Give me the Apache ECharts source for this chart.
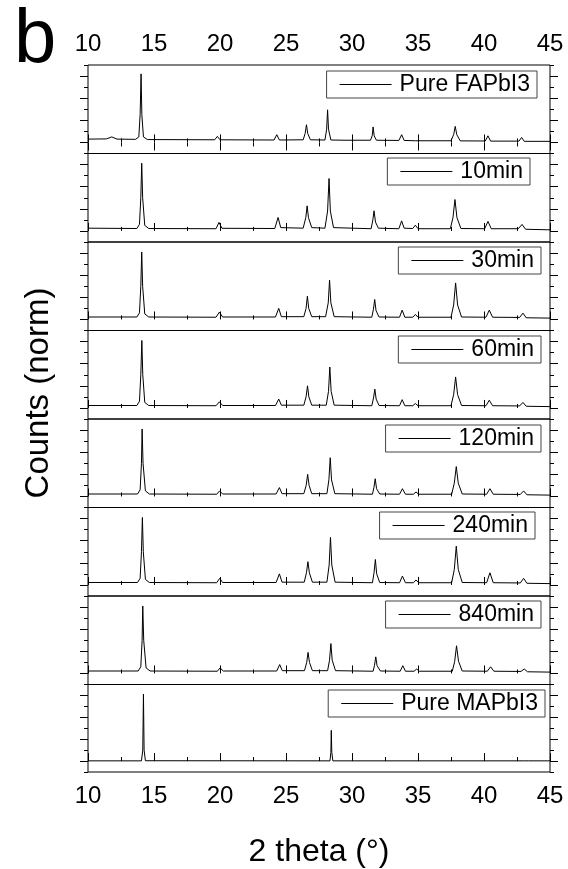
<!DOCTYPE html>
<html>
<head>
<meta charset="utf-8">
<script src="https://cdn.jsdelivr.net/npm/echarts@6/dist/echarts.min.js"></script>
<style>
html,body{margin:0;padding:0;background:#fff;}
#chart{width:568px;height:869px;}
</style>
</head>
<body>
<div id="chart"></div>
<script>
// sample names, one per panel (top to bottom)
var names = ['Pure FAPbI3', '10min', '30min', '60min', '120min', '240min', '840min', 'Pure MAPbI3'];

// [2theta, counts(norm)]
var fapbi3 = [
	[10,0.3],[11.4,0.32],[11.8,0.5],[12.2,0.3],[13.6,0.28],[13.85,0.5],[13.95,2.5],[14.02,6.2],[14.08,2.5],[14.2,0.5],[14.5,0.26],
	[19.6,0.24],[19.8,0.55],[20.0,0.24],[24.1,0.22],[24.3,0.7],[24.5,0.22],[26.3,0.24],[26.45,0.8],[26.55,1.6],[26.65,0.8],[26.85,0.24],
	[27.95,0.22],[28.08,1.2],[28.15,2.95],[28.22,1.2],[28.4,0.22],[29.4,0.2],[29.55,0.38],[29.7,0.2],[31.4,0.2],[31.53,0.6],[31.6,1.4],[31.68,0.6],[31.85,0.2],
	[33.55,0.18],[33.76,0.7],[33.95,0.18],[34.55,0.16],[34.68,0.3],[34.8,0.15],[37.5,0.15],[37.7,0.7],[37.82,1.45],[37.94,0.7],[38.2,0.14],
	[40.1,0.13],[40.3,0.6],[40.5,0.12],[42.65,0.12],[42.85,0.45],[43.05,0.1],[45,0.1]
];
var min10 = [
	[10,0.25],[13.7,0.22],[13.9,0.6],[14.0,3],[14.07,6.12],[14.14,3],[14.3,0.5],[14.6,0.22],
	[19.7,0.2],[19.92,0.77],[20.15,0.24],[24.15,0.22],[24.4,1.22],[24.6,0.3],[26.3,0.25],[26.5,1.2],[26.6,2.27],[26.7,1.2],[26.95,0.3],
	[27.95,0.25],[28.15,1.8],[28.26,4.74],[28.36,1.8],[28.6,0.3],[31.45,0.2],[31.58,1.0],[31.67,1.82],[31.78,0.8],[32.0,0.25],
	[33.55,0.2],[33.76,0.91],[33.95,0.25],[34.6,0.22],[34.8,0.52],[35.0,0.2],[37.45,0.2],[37.65,1.2],[37.8,2.84],[37.95,1.2],[38.25,0.22],
	[40.05,0.2],[40.3,0.86],[40.55,0.2],[42.6,0.2],[42.88,0.59],[43.15,0.15],[45,0.1]
];
var min30 = [
	[10,0.22],[13.7,0.22],[13.9,0.6],[14.0,3],[14.07,6.1],[14.14,3],[14.3,0.5],[14.6,0.22],
	[19.7,0.2],[19.95,0.66],[20.2,0.22],[24.2,0.22],[24.45,1.0],[24.65,0.25],[26.35,0.25],[26.52,1.0],[26.62,2.1],[26.72,1.0],[26.95,0.25],
	[28.0,0.25],[28.2,1.5],[28.3,3.55],[28.4,1.5],[28.65,0.25],[31.5,0.2],[31.62,0.9],[31.72,1.8],[31.82,0.8],[32.05,0.22],
	[33.6,0.2],[33.8,0.84],[34.0,0.2],[34.6,0.2],[34.8,0.45],[35.0,0.2],[37.5,0.2],[37.7,1.3],[37.85,3.3],[38.0,1.3],[38.3,0.22],
	[40.15,0.2],[40.4,0.84],[40.65,0.2],[42.7,0.18],[42.95,0.57],[43.2,0.15],[45,0.12]
];
var min60 = [
	[10,0.22],[13.7,0.22],[13.9,0.6],[14.0,3],[14.08,6.1],[14.15,3],[14.3,0.5],[14.6,0.22],
	[19.7,0.2],[19.95,0.55],[20.2,0.22],[24.2,0.22],[24.45,0.8],[24.65,0.25],[26.35,0.25],[26.52,1.0],[26.63,2.0],[26.73,1.0],[26.95,0.25],
	[28.05,0.25],[28.22,1.5],[28.32,3.7],[28.42,1.5],[28.65,0.25],[31.5,0.2],[31.63,0.9],[31.73,1.7],[31.83,0.8],[32.05,0.22],
	[33.6,0.2],[33.8,0.75],[34.0,0.2],[34.6,0.2],[34.8,0.4],[35.0,0.2],[37.5,0.2],[37.7,1.2],[37.85,2.8],[38.0,1.2],[38.3,0.22],
	[40.15,0.2],[40.4,0.7],[40.65,0.2],[42.7,0.18],[42.95,0.5],[43.2,0.15],[45,0.12]
];
var min120 = [
	[10,0.22],[13.75,0.22],[13.95,0.6],[14.05,3],[14.1,6.1],[14.17,3],[14.35,0.5],[14.65,0.22],
	[19.75,0.2],[19.97,0.5],[20.2,0.22],[24.25,0.22],[24.5,0.8],[24.7,0.25],[26.35,0.25],[26.53,1.0],[26.64,2.0],[26.75,1.0],[26.95,0.25],
	[28.1,0.25],[28.25,1.5],[28.35,3.5],[28.45,1.5],[28.7,0.25],[31.55,0.2],[31.66,0.8],[31.76,1.6],[31.86,0.7],[32.1,0.22],
	[33.6,0.2],[33.82,0.7],[34.05,0.2],[34.65,0.2],[34.85,0.4],[35.05,0.2],[37.55,0.2],[37.75,1.2],[37.9,2.7],[38.05,1.2],[38.35,0.22],
	[40.2,0.2],[40.45,0.7],[40.7,0.2],[42.75,0.18],[43.0,0.5],[43.25,0.15],[45,0.12]
];
var min240 = [
	[10,0.22],[13.75,0.22],[13.95,0.6],[14.05,3],[14.12,6.1],[14.19,3],[14.35,0.5],[14.65,0.22],
	[19.75,0.2],[19.98,0.6],[20.2,0.22],[24.25,0.22],[24.5,1.0],[24.7,0.25],[26.38,0.25],[26.55,1.1],[26.66,2.1],[26.77,1.1],[27.0,0.25],
	[28.1,0.25],[28.27,1.8],[28.37,4.3],[28.47,1.8],[28.72,0.25],[31.55,0.2],[31.67,1.1],[31.77,2.3],[31.87,1.0],[32.1,0.22],
	[33.6,0.2],[33.82,0.8],[34.05,0.2],[34.65,0.2],[34.85,0.45],[35.05,0.2],[37.55,0.2],[37.75,1.4],[37.9,3.5],[38.05,1.4],[38.35,0.22],
	[40.2,0.2],[40.45,1.1],[40.7,0.2],[42.75,0.18],[43.0,0.6],[43.25,0.15],[45,0.12]
];
var min840 = [
	[10,0.22],[13.8,0.22],[14.0,0.6],[14.1,3],[14.15,6.1],[14.22,3],[14.4,0.5],[14.7,0.22],
	[19.8,0.2],[20.0,0.5],[20.25,0.22],[24.3,0.22],[24.52,0.8],[24.72,0.25],[26.4,0.25],[26.57,1.0],[26.67,1.9],[26.78,1.0],[27.0,0.25],
	[28.15,0.25],[28.3,1.2],[28.4,2.7],[28.5,1.2],[28.75,0.25],[31.6,0.2],[31.7,0.7],[31.8,1.5],[31.9,0.7],[32.15,0.22],
	[33.65,0.2],[33.85,0.7],[34.05,0.2],[34.7,0.2],[34.9,0.4],[35.1,0.2],[37.6,0.2],[37.78,1.1],[37.92,2.5],[38.07,1.1],[38.35,0.22],
	[40.25,0.2],[40.5,0.6],[40.75,0.2],[42.8,0.18],[43.05,0.4],[43.3,0.15],[45,0.12]
];
var mapbi3 = [
	[10,0.02],[14.05,0.02],[14.15,1.0],[14.2,6.12],[14.25,1.0],[14.35,0.03],[28.33,0.02],[28.4,0.8],[28.43,2.81],[28.47,0.8],[28.55,0.02],
	[43.05,0.02],[43.2,0.1],[43.35,0.02],[45,0.02]
];
var panels = [fapbi3, min10, min30, min60, min120, min240, min840, mapbi3];

// legend box: right edge and top, in px
var legendRight = [537, 530, 541, 541, 541, 535, 541, 545];
var legendTop = [71, 158, 247, 336, 425, 512, 601, 690];

var chart = echarts.init(document.getElementById('chart'));
var font = 'Liberation Sans, Arial, sans-serif';
var black = {color: '#000', width: 1};

var grids = [], xAxes = [], yAxes = [], series = [], legends = [];
var panelTop = 65, panelH = 88.5;

for (var i = 0; i < panels.length; i++) {
	var last = i == panels.length - 1;
	grids.push({
		left: 88, width: 462, top: panelTop + i * panelH, height: panelH,
		show: true, borderColor: '#000', borderWidth: 1, backgroundColor: 'transparent'
	});
	var xi = xAxes.length;
	xAxes.push({
		gridIndex: i, type: 'value', min: 10, max: 45, interval: 5, position: 'bottom',
		axisLine: {show: false},
		axisTick: {inside: i != 0, length: 8, lineStyle: black},
		minorTick: {show: true, splitNumber: 2, length: 4, lineStyle: black},
		splitLine: {show: false},
		axisLabel: {show: last, fontSize: 24, color: '#000', margin: 12, fontFamily: font},
		name: last ? '2 theta (\u00b0)' : '',
		nameLocation: 'middle', nameGap: 64,
		nameTextStyle: {fontSize: 32, color: '#000', fontFamily: font}
	});
	if (i == 0) {
		xAxes.push({
			gridIndex: 0, type: 'value', min: 10, max: 45, interval: 5, position: 'top',
			axisLine: {show: false},
			axisTick: {inside: false, length: 8, lineStyle: black},
			minorTick: {show: true, splitNumber: 2, length: 4, lineStyle: black},
			splitLine: {show: false},
			axisLabel: {show: true, fontSize: 24, color: '#000', margin: 9, fontFamily: font}
		});
	}
	var yi = yAxes.length;
	['left', 'right'].forEach(function (pos) {
		yAxes.push({
			gridIndex: i, type: 'value', min: -1, max: 7, interval: 1, position: pos,
			axisLine: {show: false}, axisLabel: {show: false}, splitLine: {show: false},
			axisTick: {length: 4, lineStyle: black}
		});
		yAxes.push({
			gridIndex: i, type: 'value', min: -1, max: 7, interval: 1, position: pos,
			axisLine: {show: false}, axisLabel: {show: false}, splitLine: {show: false},
			axisTick: {length: 8, lineStyle: black, customValues: [0, 2, 4, 6]}
		});
	});
	series.push({
		name: names[i], type: 'line', xAxisIndex: xi, yAxisIndex: yi,
		data: panels[i], symbol: 'none', showSymbol: false, animation: false,
		lineStyle: {color: '#000', width: 1}
	});
	legends.push({
		data: [names[i]], right: 568 - legendRight[i], top: legendTop[i],
		selectedMode: false, icon: 'rect', itemWidth: 52, itemHeight: 1, itemGap: 0,
		itemStyle: {color: '#000'},
		borderColor: '#444', borderWidth: 1, borderRadius: 0, padding: [2, 7, 2, 13],
		textStyle: {fontSize: 23, color: '#000', fontFamily: font, padding: [0, 0, 0, 3]}
	});
}

var option = {
	animation: false,
	backgroundColor: '#fff',
	grid: grids,
	xAxis: xAxes,
	yAxis: yAxes,
	legend: legends,
	series: series,
	graphic: [
		{type: 'text', left: 14, top: 3, style: {text: 'b', fontSize: 76, fontFamily: font, fill: '#000'}},
		{type: 'text', x: 39, y: 393, rotation: Math.PI / 2,
			style: {text: 'Counts (norm)', fontSize: 33, fontFamily: font, fill: '#000', align: 'center', verticalAlign: 'middle'}}
	]
};
chart.setOption(option);
</script>
</body>
</html>
